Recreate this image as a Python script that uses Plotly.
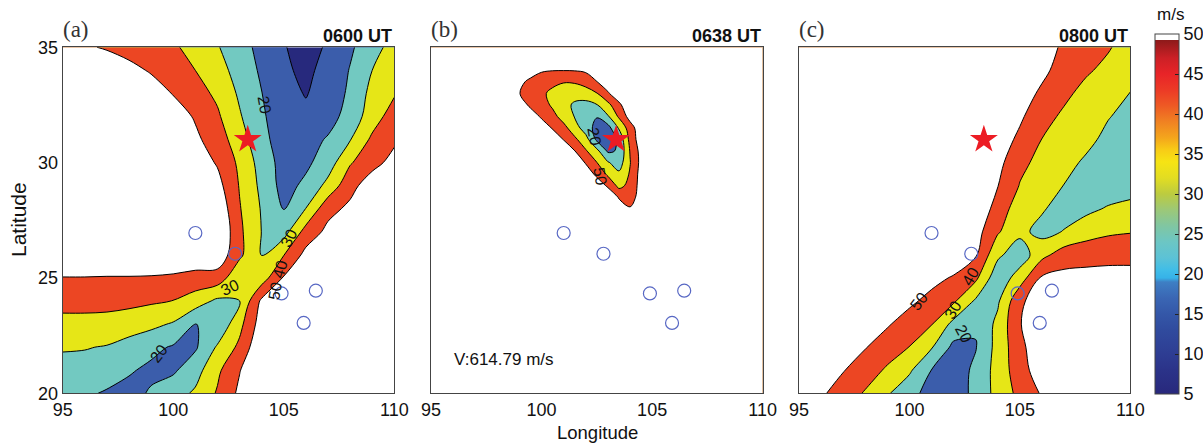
import plotly.graph_objects as go

# ---------------- grids (degrees) ----------------
lon_grid = [95, 96, 97, 98, 99, 100, 101, 102, 103, 104, 105, 106, 107, 108, 109, 110]
lat_grid = [20, 21, 22, 23, 24, 25, 26, 27, 28, 29, 30, 31, 32, 33, 34, 35]

# 0600 UT speed field (m/s), rows = latitude 20..35, columns = longitude 95..110
speed_0600 = [
    [24, 21.5, 19, 17, 21, 26, 31.5, 41, 52, 60, 66, 70, 73, 75, 77, 78],
    [27, 26.5, 24.5, 21, 18, 18.5, 26, 38, 49.5, 60, 66, 70, 73, 75, 76, 77],
    [30.8, 30.5, 29.4, 26, 22.5, 19, 18.7, 31.2, 42.2, 59, 65, 69, 72, 74, 75, 76],
    [37, 37, 36.5, 35, 32.5, 29, 19.8, 21.5, 37, 55, 63, 67, 70, 72, 73, 74],
    [43.3, 43.3, 43.2, 42.5, 41.3, 39.8, 35, 28, 29.8, 52, 60, 64, 67, 69, 70, 71],
    [49.7, 49.7, 49.5, 49.5, 49.3, 48.5, 46.5, 45.5, 32, 35, 51, 57, 61, 64, 66, 67],
    [56.5, 56.5, 56.5, 56.5, 56.5, 57, 57, 57, 42, 29.5, 39.7, 53, 58, 62, 66, 70],
    [62, 62, 62, 62, 62, 62, 62, 61, 42, 29.8, 26, 44, 52.5, 57, 62, 66],
    [66, 66, 66, 66, 65, 64, 62, 58, 40.7, 29.2, 19.8, 30.2, 47, 52, 57, 62],
    [70, 70, 69, 68, 66, 63, 58, 53.5, 39.4, 27.6, 16.4, 22.2, 33, 47, 55, 60],
    [72, 71, 70, 68, 65, 61, 56, 49, 38, 26, 16, 18, 25, 39, 47, 53],
    [73, 72, 70, 67, 63, 59, 52, 45, 34.5, 23, 15, 16, 21, 29.5, 42, 48.5],
    [73, 71, 68, 64, 60, 55, 49, 41.5, 31, 21.5, 14, 12, 16, 24, 35, 45],
    [72, 69, 65, 60, 55, 49.5, 44, 38, 28.5, 20.2, 13, 9.5, 14, 21.8, 33, 39],
    [66, 62, 58, 53, 49, 44.5, 40, 34, 26, 18.5, 11.5, 8, 13, 20.5, 30, 37],
    [55, 51.5, 48.8, 46.2, 43.5, 40.8, 38.1, 30.7, 24, 17, 10.5, 7, 11, 18.5, 26, 34],
]

# 0638 UT speed field: fine grid around the low-speed arc, framed by the map corners
lon_0638 = [95, 98.5, 99, 99.5, 100, 100.5, 101, 101.5, 102, 102.5, 103, 103.5, 104, 104.5, 105, 105.5, 110]
lat_0638 = [20, 27.5, 28, 28.5, 29, 29.5, 30, 30.5, 31, 31.5, 32, 32.5, 33, 33.5, 34, 34.5, 35]
speed_0638 = [
    [64, 64, 64, 64, 64, 64, 64, 64, 64, 64, 64, 64, 64, 64, 64, 64, 64],
    [64, 62, 62, 62, 62, 62, 62, 62, 62, 62, 62, 62, 62, 62, 62, 62, 64],
    [64, 62, 62, 62, 62, 62, 62, 62, 62, 62, 58, 53, 51, 58, 62, 62, 64],
    [64, 62, 62, 62, 62, 62, 62, 62, 62, 60, 55, 49.5, 45, 55, 60, 62, 64],
    [64, 62, 62, 62, 62, 62, 62, 62, 58, 54, 49, 37, 43, 54, 60, 62, 64],
    [64, 62, 62, 62, 62, 62, 62, 58, 54, 48.5, 38, 32, 41, 54, 60, 62, 64],
    [64, 62, 62, 62, 62, 62, 58, 54, 49.5, 40.2, 31, 25, 39.5, 53, 60, 62, 64],
    [64, 62, 62, 62, 62, 58, 54, 50.3, 41, 33, 18.5, 21, 40.5, 53.5, 60, 62, 64],
    [64, 62, 62, 62, 58, 54, 49.8, 42, 34, 18, 13, 22.5, 43, 56, 62, 62, 64],
    [64, 62, 62, 58, 54, 49.5, 43, 34.5, 25, 16.5, 16, 31, 45, 57, 62, 62, 64],
    [64, 62, 58, 54, 49, 43, 36, 29.5, 23, 20.5, 29, 41.5, 54, 60, 62, 62, 64],
    [64, 60, 54, 48.5, 44, 38.5, 33, 28.5, 27, 29.5, 37, 48, 57, 60, 60, 60, 64],
    [64, 56, 50.2, 46, 41.5, 38, 35, 33.5, 35, 39.5, 49, 56, 60, 60, 60, 60, 64],
    [64, 58, 52, 48, 45, 42, 40.5, 41, 44, 49.8, 55, 59, 60, 60, 60, 60, 64],
    [64, 60, 57, 54, 51, 50.3, 50.2, 50.4, 51.5, 54, 58, 60, 60, 60, 60, 60, 64],
    [64, 60, 60, 59, 57, 55, 55, 55, 56, 58, 60, 60, 60, 60, 60, 60, 64],
    [64, 64, 64, 64, 64, 64, 64, 64, 64, 64, 64, 64, 64, 64, 64, 64, 64],
]

# 0800 UT speed field (m/s), rows = latitude 20..35, columns = longitude 95..110
speed_0800 = [
    [57, 51.5, 45.5, 39, 31, 23.5, 16, 13, 23.5, 33, 43, 51, 57, 61, 63, 64],
    [60, 56, 50.5, 45, 38.5, 31.5, 19.8, 15, 22, 34, 45.5, 56, 62, 64, 65, 65],
    [63, 60, 56, 50.5, 45, 39.8, 30.8, 17.5, 19.5, 33.5, 47, 58, 62, 64, 65, 65],
    [65, 63, 60, 55, 51, 45.5, 40.5, 27, 21, 32.5, 49.5, 57, 62, 63, 63, 63],
    [67, 65, 63, 60, 56.5, 52, 47, 41.5, 28.5, 28.5, 48, 56, 60, 61, 61, 60],
    [69, 67, 65, 63, 60, 57, 53, 49, 42, 23, 35, 51.5, 53, 53.5, 53.5, 53],
    [70, 69, 67, 65, 63, 61, 60, 57, 51, 32, 24, 37, 45, 46, 47, 47.5],
    [71, 70, 69, 67, 65, 63, 62, 59, 54, 41, 32.5, 27, 30.5, 36, 38.5, 39.5],
    [72, 71, 70, 68, 66, 64, 62, 58, 55, 47.5, 33, 31, 26, 27.5, 31, 32],
    [72, 71, 70, 69, 67, 65, 62, 59, 55, 50.2, 39.5, 34, 29.8, 25.5, 24, 27],
    [72, 71, 70, 69, 68, 66, 63, 60, 58, 53, 42.5, 37, 33, 28.5, 24, 22],
    [72, 71, 70, 69, 68, 66, 64, 62, 60, 55, 48, 39.8, 35, 32.5, 27.5, 24],
    [72, 71, 70, 69, 68, 66, 64, 62, 60, 56, 51.5, 44, 38, 33, 30.5, 27],
    [74, 73, 71, 69, 67, 65, 63, 61, 59, 57, 54, 48.5, 42.5, 36.5, 32.5, 29.8],
    [75, 74, 72, 70, 68, 66, 64, 62, 60, 58.5, 57, 52, 46.5, 41.5, 37, 33],
    [75, 73, 71, 69, 67, 65, 63, 61, 59, 57.5, 56, 54, 48.5, 45, 41, 35],
]

# GPS stations and epicentre
station_lon = [101.0, 102.8, 104.9, 106.45, 105.9]
station_lat = [26.95, 26.05, 24.33, 24.45, 23.05]
epicenter_lon = [103.37]
epicenter_lat = [31.0]

panel_titles = ["0600 UT", "0638 UT", "0800 UT"]
panel_letters = ["(a)", "(b)", "(c)"]
x_ticks = [95, 100, 105, 110]
y_ticks = [20, 25, 30, 35]
cbar_ticks = [5, 10, 15, 20, 25, 30, 35, 40, 45, 50]

# contour labels: (panel, lon, lat, text, angle)
contour_labels = [
    (0, 104.1, 32.5, "20", 80), (0, 105.22, 26.72, "30", -62), (0, 104.85, 25.4, "40", -75),
    (0, 104.62, 24.45, "50", -80), (0, 102.55, 24.58, "30", -25), (0, 99.35, 21.72, "20", -52),
    (1, 102.4, 31.15, "20", 80), (1, 102.65, 29.4, "50", 80),
    (2, 100.42, 23.98, "50", -52), (2, 102.75, 25.08, "40", -60), (2, 101.95, 23.6, "30", -60),
    (2, 102.45, 22.6, "20", 62),
]

W, H = 1203, 444
x_domains = [(62.7, 394.3), (431.0, 762.7), (799.0, 1130.3)]
y_top_px, y_bot_px = 47.3, 393.3

# flat band colours: <10, 10-20, 20-30, 30-40, 40-50, >50
band_colors = ["#27297d", "#3b5dab", "#72c9c1", "#e6e617", "#ec4623", "#ffffff"]
band_scale = []
for i, c in enumerate(band_colors):
    lo = 0 if i == 0 else (i - 0.5) / 5
    hi = 1 if i == 5 else (i + 0.5) / 5
    band_scale += [[lo, c], [hi, c]]

bar_stops = [
    (5, "#28287c"), (8, "#2b3389"), (10, "#2e3d93"), (13, "#304b9e"), (15, "#3457a8"),
    (17, "#3a66b4"), (19, "#3e7fc4"), (19.5, "#36b2e8"), (20.5, "#40bde8"), (22, "#5cc2d6"),
    (24, "#6cc6c4"), (26, "#80c6a2"), (28, "#9cc878"), (30, "#bccb40"), (32, "#e2dd22"),
    (34, "#f6e414"), (35.5, "#f8cc16"), (37, "#f4a61c"), (39, "#f08222"), (41, "#ee5a24"),
    (43, "#ec3a26"), (45, "#e82428"), (47, "#cc2026"), (49.2, "#8e1a1a"), (49.3, "#ffffff"),
    (50, "#ffffff"),
]
bar_scale = [[(v - 5) / 45, c] for v, c in bar_stops]

fig = go.Figure()
fields = [
    (lon_grid, lat_grid, speed_0600),
    (lon_0638, lat_0638, speed_0638),
    (lon_grid, lat_grid, speed_0800),
]
for k, (xs, ys, zs) in enumerate(fields):
    sfx = "" if k == 0 else str(k + 1)
    fig.add_trace(go.Contour(
        x=xs, y=ys, z=zs, xaxis="x" + sfx, yaxis="y" + sfx,
        contours=dict(start=10, end=50, size=10, coloring="fill", showlabels=False),
        colorscale=band_scale, zmin=5, zmax=55, autocontour=False,
        line=dict(color="black", width=1, smoothing=1.0),
        showscale=False, hoverinfo="skip",
    ))
    fig.add_trace(go.Scatter(
        x=station_lon, y=station_lat, mode="markers", xaxis="x" + sfx, yaxis="y" + sfx,
        marker=dict(symbol="circle-open", size=13, color="#5868c4", line=dict(width=1.2)),
        hoverinfo="skip",
    ))
    fig.add_trace(go.Scatter(
        x=epicenter_lon, y=epicenter_lat, mode="markers", xaxis="x" + sfx, yaxis="y" + sfx,
        marker=dict(symbol="star", size=21, color="#ec1c24", line=dict(width=0)),
        hoverinfo="skip",
    ))

# colour bar
fig.add_trace(go.Scatter(
    x=[None], y=[None], mode="markers", xaxis="x", yaxis="y",
    marker=dict(
        color=[5, 50], cmin=5, cmax=50, colorscale=bar_scale, showscale=True,
        colorbar=dict(
            x=1155 / W, xanchor="left", xpad=0, ypad=0, y=1 - 34 / H, yanchor="top",
            len=360, lenmode="pixels", thickness=24, thicknessmode="pixels",
            tickvals=cbar_ticks, ticktext=[str(t) for t in cbar_ticks],
            ticks="inside", ticklen=4, tickcolor="#222", tickwidth=1,
            outlinecolor="#444", outlinewidth=1,
            tickfont=dict(family="Liberation Sans, Arial", size=18, color="#111"),
        ),
    ),
    hoverinfo="skip",
))

axis_font = dict(family="Liberation Sans, Arial", size=18, color="#111")
layout = dict(
    template="none", width=W, height=H,
    margin=dict(l=0, r=0, t=0, b=0, autoexpand=False),
    paper_bgcolor="white", plot_bgcolor="white", showlegend=False,
)
for k in range(3):
    sfx = "" if k == 0 else str(k + 1)
    x0, x1 = x_domains[k]
    layout["xaxis" + sfx] = dict(
        domain=[x0 / W, x1 / W], range=[95, 110], anchor="y" + sfx, automargin=False,
        tickvals=x_ticks, ticks="", showgrid=False, zeroline=False,
        showline=True, mirror=True, linecolor="#444", linewidth=1, tickfont=axis_font,
    )
    layout["yaxis" + sfx] = dict(
        domain=[1 - y_bot_px / H, 1 - y_top_px / H], range=[20, 35], anchor="x" + sfx,
        automargin=False, tickvals=y_ticks, showticklabels=(k == 0), ticks="",
        showgrid=False, zeroline=False,
        showline=True, mirror=True, linecolor="#444", linewidth=1, tickfont=axis_font,
    )
fig.update_layout(**layout)

annotations = []
for k in range(3):
    x0, x1 = x_domains[k]
    annotations.append(dict(
        x=x1 / W, y=1 - 36 / H, xref="paper", yref="paper", xanchor="right", yanchor="middle",
        text="<b>%s</b>" % panel_titles[k], showarrow=False,
        font=dict(family="Liberation Sans, Arial", size=18, color="#111"),
    ))
    annotations.append(dict(
        x=(x0 - 2) / W, y=1 - 30 / H, xref="paper", yref="paper", xanchor="left", yanchor="middle",
        text=panel_letters[k], showarrow=False,
        font=dict(family="Liberation Serif, Times New Roman", size=23, color="#333"),
    ))
for k, lo, la, txt, ang in contour_labels:
    sfx = "" if k == 0 else str(k + 1)
    annotations.append(dict(
        x=lo, y=la, xref="x" + sfx, yref="y" + sfx, text=txt, textangle=ang, showarrow=False,
        font=dict(family="Liberation Sans, Arial", size=16, color="#111"),
    ))
annotations += [
    dict(x=95.95, y=21.47, xref="x2", yref="y2", xanchor="left", yanchor="middle",
         text="V:614.79 m/s", showarrow=False,
         font=dict(family="Liberation Sans, Arial", size=17, color="#111")),
    dict(x=1170 / W, y=1 - 15 / H, xref="paper", yref="paper", xanchor="center", yanchor="middle",
         text="m/s", showarrow=False, font=dict(family="Liberation Sans, Arial", size=17, color="#111")),
    dict(x=597 / W, y=1 - 432 / H, xref="paper", yref="paper", xanchor="center", yanchor="middle",
         text="Longitude", showarrow=False,
         font=dict(family="Liberation Sans, Arial", size=18.5, color="#111")),
    dict(x=18.5 / W, y=1 - 219.5 / H, xref="paper", yref="paper", xanchor="center", yanchor="middle",
         text="Latitude", textangle=-90, showarrow=False,
         font=dict(family="Liberation Sans, Arial", size=21, color="#111")),
]
fig.update_layout(annotations=annotations)

# left-edge tick marks of the colour bar
shapes = []
for v in cbar_ticks[1:-1]:
    yp = 394 - (v - 5) * 8
    shapes.append(dict(type="line", xref="paper", yref="paper",
                       x0=1155 / W, x1=1159 / W, y0=1 - yp / H, y1=1 - yp / H,
                       line=dict(color="#222", width=1)))
fig.update_layout(shapes=shapes)

fig.write_html("out.html")
